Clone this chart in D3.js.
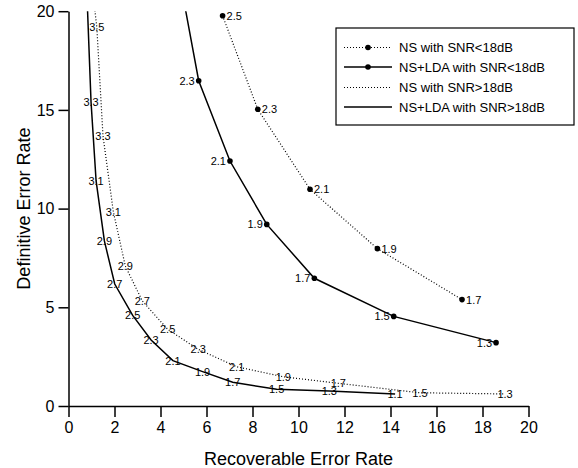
<!DOCTYPE html>
<html>
<head>
<meta charset="utf-8">
<script src="https://cdn.jsdelivr.net/npm/d3@7"></script>
<style>
  html, body { margin: 0; padding: 0; background: #fff; }
  svg { display: block; font-family: "Liberation Sans", Arial, sans-serif; }
</style>
</head>
<body>
<svg id="chart" width="578" height="468"></svg>
<script>
// ---- data ----
const xTicks = [0, 2, 4, 6, 8, 10, 12, 14, 16, 18, 20];
const yTicks = [0, 5, 10, 15, 20];

// NS with SNR<18dB (dotted, markers, labels right)
const nsLowLabels = ["2.5", "2.3", "2.1", "1.9", "1.7"];
const nsLowX = [6.70, 8.23, 10.50, 13.43, 17.11];
const nsLowY = [19.77, 15.03, 10.98, 7.97, 5.39];

// NS+LDA with SNR<18dB (solid, markers, labels left); first point lies above the plot
const ldaLowLabels = ["2.5", "2.3", "2.1", "1.9", "1.7", "1.5", "1.3"];
const ldaLowX = [4.86, 5.66, 7.02, 8.62, 10.69, 14.14, 18.59];
const ldaLowY = [21.5, 16.48, 12.41, 9.20, 6.47, 4.54, 3.21];

// NS with SNR>18dB (dotted, no markers, labels centred); first point lies above the plot
const nsHighLabels = ["3.7", "3.5", "3.3", "3.1", "2.9", "2.7", "2.5", "2.3", "2.1", "1.9", "1.7", "1.5", "1.3"];
const nsHighX = [0.95, 1.23, 1.50, 1.95, 2.47, 3.21, 4.31, 5.64, 7.31, 9.34, 11.73, 15.28, 18.98];
const nsHighY = [22.0, 19.2, 13.68, 9.84, 7.09, 5.32, 3.89, 2.87, 1.99, 1.48, 1.15, 0.67, 0.61];

// NS+LDA with SNR>18dB (solid, no markers, labels centred); first point lies above the plot
const ldaHighLabels = ["3.5", "3.3", "3.1", "2.9", "2.7", "2.5", "2.3", "2.1", "1.9", "1.7", "1.5", "1.3", "1.1"];
const ldaHighX = [0.78, 0.98, 1.20, 1.56, 2.01, 2.79, 3.59, 4.54, 5.83, 7.14, 9.05, 11.34, 14.2];
const ldaHighY = [21.5, 15.40, 11.40, 8.36, 6.18, 4.59, 3.34, 2.30, 1.74, 1.20, 0.85, 0.76, 0.61];

const legendNames = ["NS with SNR<18dB", "NS+LDA with SNR<18dB", "NS with SNR>18dB", "NS+LDA with SNR>18dB"];

const xTitle = "Recoverable Error Rate";
const yTitle = "Definitive Error Rate";

// ---- layout ----
const svg = d3.select("#chart");
const pLeft = 68.5, pRight = 528.5, pTop = 11.2, pBottom = 406;

const x = d3.scaleLinear().domain([0, 20]).range([pLeft, pRight]);
const y = d3.scaleLinear().domain([0, 20]).range([pBottom, pTop]);

svg.append("defs").append("clipPath").attr("id", "plotclip")
  .append("rect").attr("x", pLeft - 2).attr("y", pTop).attr("width", pRight - pLeft + 40).attr("height", pBottom - pTop + 2);

// axes
const gx = svg.append("g").attr("transform", `translate(0,${pBottom})`)
  .call(d3.axisBottom(x).tickValues(xTicks).tickFormat(d3.format("d")).tickSize(11).tickSizeOuter(0).tickPadding(5));
const gy = svg.append("g").attr("transform", `translate(${pLeft},0)`)
  .call(d3.axisLeft(y).tickValues(yTicks).tickFormat(d3.format("d")).tickSize(10).tickSizeOuter(0).tickPadding(4));
[gx, gy].forEach(g => {
  g.select(".domain").attr("stroke", "#000").attr("stroke-width", 1.5);
  g.selectAll(".tick line").attr("stroke", "#000").attr("stroke-width", 1.5);
  g.selectAll(".tick text").attr("fill", "#000").style("font-size", "16px")
    .style("font-family", "'Liberation Sans', Arial, sans-serif");
});

// axis titles
svg.append("text").attr("x", (pLeft + pRight) / 2).attr("y", 465).attr("text-anchor", "middle")
  .style("font-size", "18px").attr("fill", "#000").text(xTitle);
svg.append("text").attr("transform", `translate(30,${(pTop + pBottom) / 2}) rotate(-90)`)
  .attr("text-anchor", "middle").style("font-size", "18px").attr("fill", "#000").text(yTitle);

// series
function build(labels, xs, ys) {
  return labels.map((l, i) => ({ label: l, x: xs[i], y: ys[i] }));
}
const series = [
  { data: build(nsLowLabels, nsLowX, nsLowY), dash: "1,2", width: 1.2, marker: true, labelPos: "right" },
  { data: build(ldaLowLabels, ldaLowX, ldaLowY), dash: null, width: 1.5, marker: true, labelPos: "left" },
  { data: build(nsHighLabels, nsHighX, nsHighY), dash: "1,2", width: 1.2, marker: false, labelPos: "center" },
  { data: build(ldaHighLabels, ldaHighX, ldaHighY), dash: null, width: 1.5, marker: false, labelPos: "center" }
];

const line = d3.line().x(d => x(d.x)).y(d => y(d.y));
const plot = svg.append("g").attr("clip-path", "url(#plotclip)");

series.forEach(s => {
  plot.append("path").datum(s.data).attr("d", line)
    .attr("fill", "none").attr("stroke", "#000").attr("stroke-width", s.width)
    .attr("stroke-dasharray", s.dash);
  const inside = s.data.filter(d => d.y <= 20);
  if (s.marker) {
    plot.selectAll(null).data(inside).enter().append("circle")
      .attr("cx", d => x(d.x)).attr("cy", d => y(d.y)).attr("r", 2.8).attr("fill", "#000");
  }
  svg.selectAll(null).data(inside).enter().append("text")
    .attr("x", d => x(d.x) + (s.labelPos === "right" ? 4 : s.labelPos === "left" ? -4 : 0))
    .attr("y", d => y(d.y) + 4)
    .attr("text-anchor", s.labelPos === "right" ? "start" : s.labelPos === "left" ? "end" : "middle")
    .style("font-size", "11px").attr("fill", "#000")
    .text(d => d.label);
});

// legend
const lg = svg.append("g");
lg.append("rect").attr("x", 336).attr("y", 28).attr("width", 238).attr("height", 97)
  .attr("fill", "#fff").attr("stroke", "#000").attr("stroke-width", 1.2);
const rowY = [47.5, 67, 87.5, 107];
legendNames.forEach((name, i) => {
  const s = series[i];
  lg.append("line").attr("x1", 344).attr("x2", 392).attr("y1", rowY[i]).attr("y2", rowY[i])
    .attr("stroke", "#000").attr("stroke-width", s.width).attr("stroke-dasharray", s.dash);
  if (s.marker) {
    lg.append("circle").attr("cx", 368).attr("cy", rowY[i]).attr("r", 2.8).attr("fill", "#000");
  }
  lg.append("text").attr("x", 399).attr("y", rowY[i] + 4.5).style("font-size", "13px")
    .attr("fill", "#000").text(name);
});
</script>
</body>
</html>
